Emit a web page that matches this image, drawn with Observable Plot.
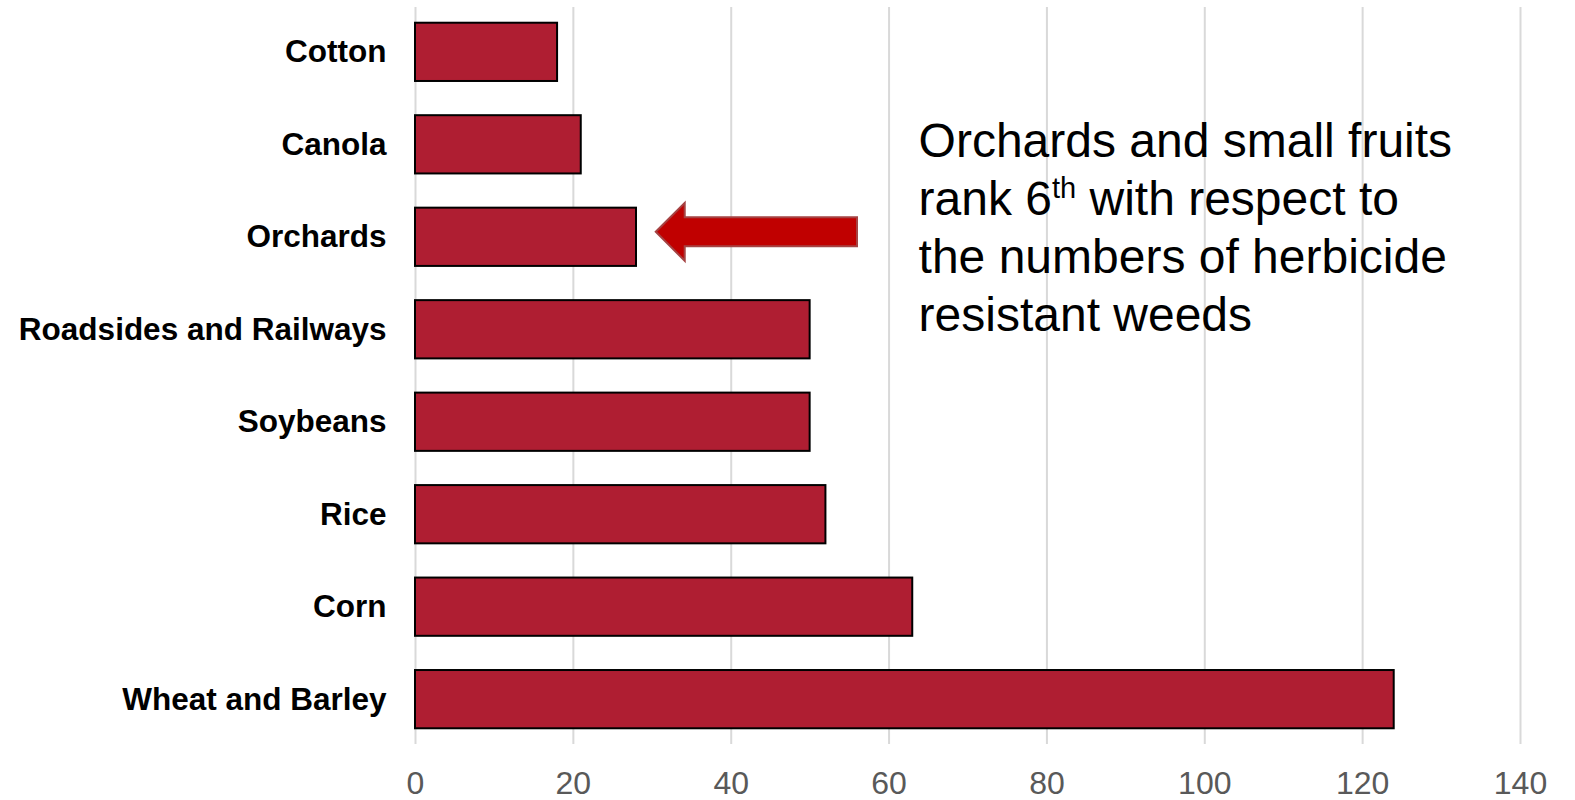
<!DOCTYPE html>
<html>
<head>
<meta charset="utf-8">
<script src="https://cdn.jsdelivr.net/npm/d3@7"></script>
<script src="https://cdn.jsdelivr.net/npm/@observablehq/plot@0.6"></script>
<style>
  html, body { margin: 0; padding: 0; background: #fff; }
  #chart svg { display: block; font-family: "Liberation Sans", Arial, sans-serif; }
</style>
</head>
<body>
<div id="chart"></div>
<script>
// Herbicide-resistant weed counts by crop / site
const categories = ["Cotton", "Canola", "Orchards", "Roadsides and Railways", "Soybeans", "Rice", "Corn", "Wheat and Barley"];
const counts = [18, 21, 28, 50, 50, 52, 63, 124];
const xTicks = [0, 20, 40, 60, 80, 100, 120, 140];

// Callout: block arrow pointing at a bar, plus a note (segments flagged true are superscript)
const arrowAt = "Orchards";
const arrowFrom = 56;
const arrowTo = 30.5;
const noteX = 63.8;
const noteBand = "Canola";
const noteLines = [
  [["Orchards and small fruits", false]],
  [["rank 6", false], ["th", true], [" with respect to", false]],
  [["the numbers of herbicide", false]],
  [["resistant weeds", false]]
];

const rows = categories.map((c, i) => ({category: c, count: counts[i]}));

const chart = Plot.plot({
  width: 1575,
  height: 800,
  marginLeft: 415,
  marginRight: 55,
  marginTop: 7,
  marginBottom: 56,
  style: {fontFamily: "'Liberation Sans', Arial, sans-serif", background: "#fff"},
  x: {domain: [0, 140], ticks: xTicks, label: null},
  y: {domain: categories, paddingInner: 0.37, paddingOuter: 0.17, round: false, label: null},
  marks: [
    Plot.ruleX(xTicks, {stroke: "#d9d9d9", strokeWidth: 2}),
    Plot.barX(rows, {x: "count", y: "category", fill: "#AF1E32", stroke: "#000", strokeWidth: 2}),
    Plot.axisX({ticks: xTicks, tickSize: 0, tickPadding: 27, fontSize: 32, fill: "#595959", label: null}),
    Plot.axisY({tickSize: 0, tickPadding: 29, fontSize: 31.5, fontWeight: "bold", fill: "#000", label: null})
  ]
});

const sx = chart.scale("x");
const sy = chart.scale("y");
const svg = d3.select(chart);

// Block arrow
{
  const tip = sx.apply(arrowTo);
  const tail = sx.apply(arrowFrom);
  const cy = sy.apply(arrowAt) + sy.bandwidth / 2 - 5;
  const headLen = 29, headHalf = 29, shaftHalf = 14.5;
  const pts = [
    [tip, cy],
    [tip + headLen, cy - headHalf],
    [tip + headLen, cy - shaftHalf],
    [tail, cy - shaftHalf],
    [tail, cy + shaftHalf],
    [tip + headLen, cy + shaftHalf],
    [tip + headLen, cy + headHalf]
  ];
  svg.append("polygon")
    .attr("points", pts.map(p => p.join(",")).join(" "))
    .attr("fill", "#C00000")
    .attr("stroke", "#A54343")
    .attr("stroke-width", 2)
    .attr("stroke-linejoin", "miter");
}

// Note text
{
  const x0 = sx.apply(noteX);
  const y0 = sy.apply(noteBand) + sy.bandwidth / 2 + 13;
  const text = svg.append("text")
    .attr("font-family", "'Liberation Sans', Arial, sans-serif")
    .attr("font-size", 48)
    .attr("text-anchor", "start")
    .attr("fill", "#000");
  noteLines.forEach((segs, i) => {
    const line = text.append("tspan").attr("x", x0).attr("y", y0 + i * 58);
    segs.forEach(([s, sup], j) => {
      const t = line.append("tspan").text(s);
      if (sup) t.attr("font-size", 29).attr("dy", -17);
      else if (j > 0) t.attr("dy", 17);
    });
  });
}

document.getElementById("chart").appendChild(chart);
</script>
</body>
</html>
